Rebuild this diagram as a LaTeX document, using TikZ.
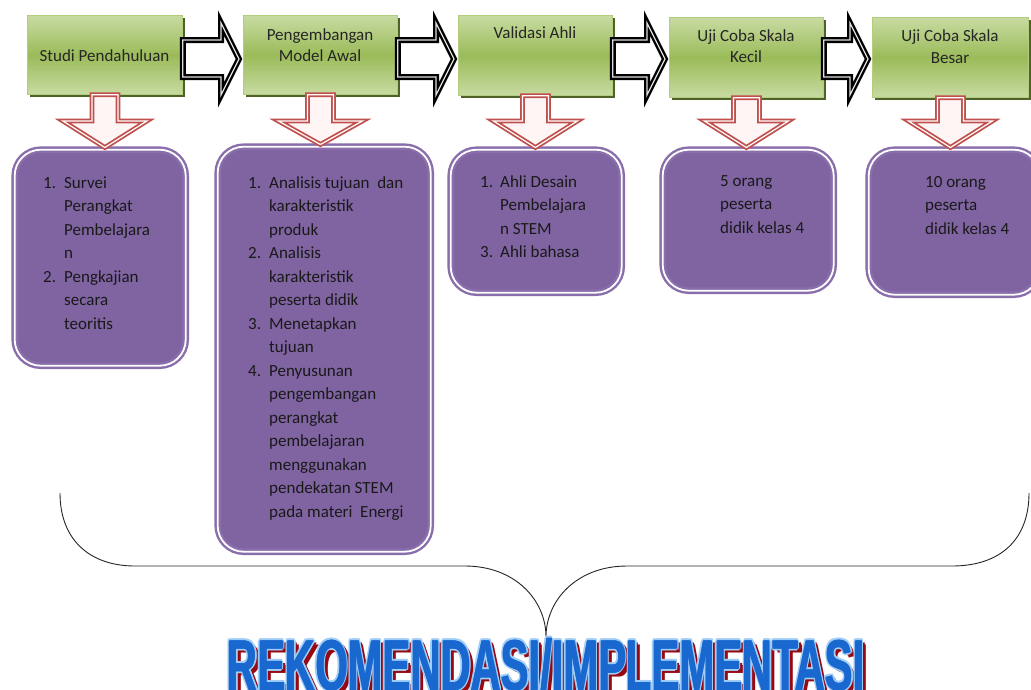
\documentclass[tikz,border=0pt]{standalone}
\usepackage{fontspec}
\setmainfont{Carlito}
\newfontfamily\titlefont{Liberation Sans}
\usetikzlibrary{calc,shadows}
\definecolor{gtop}{RGB}{200,219,162}
\definecolor{gmid}{RGB}{155,187,89}
\definecolor{gedge}{RGB}{178,205,125}
\definecolor{gshadow}{RGB}{79,98,40}
\definecolor{pfill}{RGB}{128,100,162}
\definecolor{pedge}{RGB}{138,110,172}
\definecolor{ared}{RGB}{192,80,77}
\definecolor{tblue}{RGB}{24,104,208}
\definecolor{tlight}{RGB}{160,205,248}
\definecolor{tred}{RGB}{150,8,18}
\newcommand\ttl{REKOMENDASI/IMPLEMENTASI}
\newcommand\tlayer[3]{\makebox[0pt][l]{\hspace*{#1}\raisebox{#2}{\textcolor{#3}{\ttl}}}}
\tikzset{
 gbox/.style={draw=gedge, line width=0.8, top color=gtop, bottom color=gtop, middle color=gmid, inner sep=0, anchor=north west,
   general shadow={fill=gshadow, shadow xshift=3pt, shadow yshift=-3pt}},
 gtext/.style={font=\fontsize{17}{21}\selectfont, text=black!85, inner sep=0, anchor=base},
 pbox/.style={draw=pedge, line width=2.4, double=white, double distance=1.8, fill=pfill, rounded corners=26, inner sep=0, anchor=north west},
 ptext/.style={font=\fontsize{17}{23.5}\selectfont, text=black!90, inner sep=0, anchor=base west},
 barrow/.style={draw=black, line width=2.4, double=gray!25, double distance=1.2, fill=white, line join=miter},
 rarrow/.style={draw=ared, line width=1.8, double=white, double distance=1.2, fill=red!4, line join=miter},
 brace/.style={draw=black!85, line width=0.9},
}
\begin{document}
\begin{tikzpicture}[x=1pt,y=-1pt]
\useasboundingbox (0,0) rectangle (1031,689);
\fill[white] (0,0) rectangle (1031,689);

% green step boxes
\node[gbox, minimum width=155, minimum height=79] (g1) at (27,15) {};
\node[gbox, minimum width=154, minimum height=79] (g2) at (243,15) {};
\node[gbox, minimum width=154, minimum height=80] (g3) at (458,15) {};
\node[gbox, minimum width=154, minimum height=80] (g4) at (669,17) {};
\node[gbox, minimum width=156, minimum height=80] (g5) at (872,17) {};

\node[gtext] (g1t) at (104.5,61) {Studi Pendahuluan};
\node[gtext] (g2ta) at (320,40) {Pengembangan};
\node[gtext] (g2tb) at (320,61) {Model Awal};
\node[gtext] (g3t) at (535,38) {Validasi Ahli};
\node[gtext] (g4ta) at (746,41) {Uji Coba Skala};
\node[gtext] (g4tb) at (746,62) {Kecil};
\node[gtext] (g5ta) at (950,41) {Uji Coba Skala};
\node[gtext] (g5tb) at (950,63) {Besar};

% black block arrows between steps
\foreach \a/\b in {g1/g2,g2/g3,g3/g4,g4/g5}{
 \draw[barrow] let \p1=(\a.east), \p2=(\b.west) in
   (\x1,40) -- (\x2-22,40) -- (\x2-22,23) -- (\x2-4,59) -- (\x2-22,95) -- (\x2-22,77) -- (\x1,77) -- cycle;
}

% purple detail boxes
\node[pbox, minimum width=171, minimum height=216] (p1) at (13.5,148.5) {};
\node[pbox, minimum width=213, minimum height=405] (p2) at (216.5,145.5) {};
\node[pbox, minimum width=171, minimum height=143] (p3) at (449.5,148.5) {};
\node[pbox, minimum width=171, minimum height=141] (p4) at (661.5,148.5) {};
\node[pbox, minimum width=171, minimum height=145] (p5) at (867.5,148.5) {};

% red down arrows
\foreach \a/\b in {g1/p1,g2/p2,g3/p3,g4/p4,g5/p5}{
 \draw[rarrow] let \p1=(\a.south), \p2=(\b.north) in
   (\x1-13,\y1) -- (\x1-13,121) -- (\x1-42,121) -- (\x1,\y2+1) -- (\x1+42,121) -- (\x1+13,121) -- (\x1+13,\y1) -- cycle;
}

% texts in purple boxes
\node[ptext] (t1) at (43,188) {\begin{tabular}[t]{@{}p{21pt}@{}l@{}}
1. & Survei\\ & Perangkat\\ & Pembelajara\\ & n\\
2. & Pengkajian\\ & secara\\ & teoritis\end{tabular}};
\node[ptext] (t2) at (248,188) {\begin{tabular}[t]{@{}p{21pt}@{}l@{}}
1. & Analisis tujuan\ \ dan\\ & karakteristik\\ & produk\\
2. & Analisis\\ & karakteristik\\ & peserta didik\\
3. & Menetapkan\\ & tujuan\\
4. & Penyusunan\\ & pengembangan\\ & perangkat\\ & pembelajaran\\ & menggunakan\\ & pendekatan STEM\\ & pada materi\ \ Energi\end{tabular}};
\node[ptext] (t3) at (480,187) {\begin{tabular}[t]{@{}p{20pt}@{}l@{}}
1. & Ahli Desain\\ & Pembelajara\\ & n STEM\\
3. & Ahli bahasa\end{tabular}};
\node[ptext] (t4) at (720,186) {\begin{tabular}[t]{@{}l@{}}5 orang\\ peserta\\ didik kelas 4\end{tabular}};
\node[ptext] (t5) at (925,187) {\begin{tabular}[t]{@{}l@{}}10 orang\\ peserta\\ didik kelas 4\end{tabular}};

% big brace
\coordinate (bl) at (60,493);
\coordinate (br) at (1029,493);
\coordinate (btip) at (546,637);
\draw[brace] (bl) .. controls (60,540) and (90,566) .. (135,566) -- (465,566)
  .. controls (515,566) and (546,600) .. (btip)
  .. controls (546,600) and (577,566) .. (627,566) -- (952,566)
  .. controls (1000,566) and (1029,540) .. (br);

% title
\node[anchor=base, inner sep=0, font=\titlefont\bfseries\fontsize{72}{72}\selectfont] (title) at (546,690)
 {\scalebox{0.58}[1]{%
  \tlayer{8pt}{-4pt}{tred}\tlayer{6pt}{-2pt}{tred}%
  \tlayer{-3.4pt}{0pt}{tlight}\tlayer{3.4pt}{0pt}{tlight}\tlayer{0pt}{2pt}{tlight}\tlayer{0pt}{-2pt}{tlight}%
  \tlayer{-2.4pt}{1.4pt}{tlight}\tlayer{2.4pt}{1.4pt}{tlight}\tlayer{-2.4pt}{-1.4pt}{tlight}\tlayer{2.4pt}{-1.4pt}{tlight}%
  \tlayer{-0.9pt}{0pt}{tblue}\tlayer{0.9pt}{0pt}{tblue}%
  \textcolor{tblue}{\ttl}}};
\end{tikzpicture}
\end{document}
